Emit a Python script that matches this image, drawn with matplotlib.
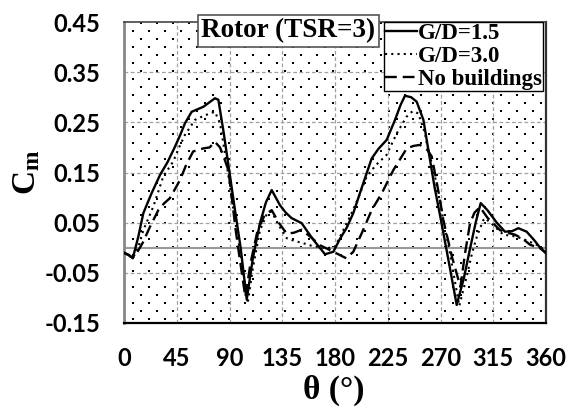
import numpy as np
import matplotlib
matplotlib.use("Agg")
import matplotlib.pyplot as plt

plt.rcParams["mathtext.fontset"] = "custom"
plt.rcParams["mathtext.rm"] = "Liberation Serif"
plt.rcParams["mathtext.bf"] = "Liberation Serif:bold"

# Moment coefficient over one revolution, G/D = 1.5
theta_15 = [0, 4, 7.5, 12.2, 16.5, 23.6, 30.7, 37, 43.5, 48, 52, 57.7, 67.7, 77.6,
            80.5, 85, 90, 95, 99.5, 104.7, 110, 116, 121, 126, 133, 138, 143, 147.3,
            151.6, 156, 161.5, 167, 171.5, 178.6, 184.3, 190, 195.6, 204, 211.3, 217,
            224.1, 231.2, 236, 239.7, 245, 249.7, 255.4, 260, 265, 270, 278, 283.8,
            290, 295, 300, 304.3, 310, 318, 325, 331, 336.4, 343.5, 350, 355, 360]
cm_15 = [-0.010, -0.014, -0.021, 0.022, 0.069, 0.109, 0.145, 0.170, 0.2015, 0.225,
         0.248, 0.271, 0.281, 0.298, 0.295, 0.230, 0.150, 0.070, 0.000, -0.103,
         -0.020, 0.049, 0.090, 0.115, 0.085, 0.070, 0.059, 0.054, 0.049, 0.034,
         0.016, 0.000, -0.013, -0.008, 0.018, 0.040, 0.069, 0.128, 0.178, 0.197,
         0.215, 0.255, 0.285, 0.303, 0.300, 0.291, 0.255, 0.190, 0.120, 0.060,
         -0.040, -0.114, -0.060, -0.004, 0.050, 0.089, 0.075, 0.050, 0.032, 0.033,
         0.039, 0.032, 0.015, 0.000, -0.011]

# G/D = 3.0
theta_30 = [0, 4, 7.5, 12, 16.5, 25, 33.5, 42, 47, 52, 60.6, 67, 74.8, 77.6, 81.9,
            86, 90, 95, 100, 105.5, 110, 116, 122, 126, 132, 138.8, 145, 153, 160,
            167, 173, 180, 184.3, 192.8, 200, 207, 215, 224, 232.7, 241, 246, 251,
            256.8, 258.3, 265.3, 270, 278, 286, 292.3, 297, 301, 306.5, 308, 315,
            323.6, 330, 335, 343, 352, 356, 360]
cm_30 = [-0.010, -0.015, -0.021, 0.000, 0.035, 0.082, 0.142, 0.172, 0.200, 0.225,
         0.255, 0.262, 0.269, 0.271, 0.248, 0.190, 0.130, 0.050, -0.020, -0.111,
         -0.040, 0.035, 0.068, 0.072, 0.045, 0.019, 0.014, 0.009, 0.004, 0.001,
         -0.001, 0.002, 0.022, 0.062, 0.100, 0.142, 0.165, 0.185, 0.228, 0.261,
         0.272, 0.268, 0.228, 0.208, 0.142, 0.085, -0.010, -0.116, -0.058, -0.010,
         0.022, 0.055, 0.059, 0.045, 0.026, 0.024, 0.022, 0.015, 0.006, 0.000,
         -0.007]

# Isolated rotor, no buildings
theta_nb = [0, 4, 7.5, 10.8, 16, 22.2, 29.3, 34, 39.2, 47.8, 53, 59, 67.6, 73,
            77.6, 81.9, 86, 89, 92, 95, 98, 103.5, 108, 114, 120, 126, 132, 138.8,
            145, 151.6, 160, 167.2, 178.6, 189.6, 195.6, 203, 211.3, 220, 229.8,
            241.2, 247, 252.5, 258.8, 262.5, 266, 269.6, 272.4, 280, 287, 291, 295.2,
            299, 303.7, 310, 320.8, 327, 333.6, 340, 346.4, 355, 360]
cm_nb = [-0.010, -0.015, -0.020, -0.011, 0.010, 0.042, 0.075, 0.088, 0.099, 0.135,
         0.165, 0.192, 0.198, 0.200, 0.211, 0.200, 0.175, 0.155, 0.100, 0.040,
         -0.010, -0.098, -0.030, 0.035, 0.065, 0.075, 0.050, 0.028, 0.030, 0.036,
         0.020, 0.005, -0.008, -0.021, -0.008, 0.030, 0.075, 0.109, 0.155, 0.198,
         0.203, 0.205, 0.195, 0.182, 0.140, 0.095, 0.055, -0.020, -0.078, -0.010,
         0.049, 0.070, 0.081, 0.060, 0.035, 0.030, 0.026, 0.018, 0.006, -0.001,
         -0.010]

x_ticks = [0, 45, 90, 135, 180, 225, 270, 315, 360]
y_ticks = [-0.15, -0.05, 0.05, 0.15, 0.25, 0.35, 0.45]
y_tick_labels = ["-0.15", "-0.05", "0.05", "0.15", "0.25", "0.35", "0.45"]

W, H = 576, 407
fig = plt.figure(figsize=(W / 100, H / 100), dpi=100)
ax = fig.add_axes([124 / W, 1 - 323 / H, 422 / W, 301 / H])

ax.set_xlim(0, 360)
ax.set_ylim(-0.15, 0.45)

# staggered dot pattern filling the plotting area
aw, ah = 422.0, 301.0
pts = []
for j, yy in enumerate(np.arange(4.5, ah, 8.0)):
    x0 = 9.0 if j % 2 == 0 else 17.0
    for xx in np.arange(x0, aw - 2, 16.0):
        pts.append((xx / aw, yy / ah))
pts = np.array(pts)
ax.scatter(pts[:, 0], pts[:, 1], s=1.2, marker="s", color="black",
           linewidths=0, transform=ax.transAxes, zorder=0.5)

# grid
for yv in y_ticks[1:-1]:
    ax.axhline(yv, color="#a0a0a0", lw=0.9, ls=(0, (3, 2)), zorder=1)
for xv in x_ticks[1:-1]:
    ax.axvline(xv, color="#a0a0a0", lw=0.9, ls=(0, (3, 2)), zorder=1)
ax.axhline(0.0, color="#9a9a9a", lw=1.5, zorder=1)

l1, = ax.plot(theta_15, cm_15, color="black", lw=1.7, ls="-", zorder=3)
l2, = ax.plot(theta_30, cm_30, color="black", lw=1.5, ls=(0, (1, 2)), zorder=3)
l3, = ax.plot(theta_nb, cm_nb, color="black", lw=1.7, ls=(0, (5, 2.5)), zorder=3)

ax.set_xticks(x_ticks)
ax.set_yticks(y_ticks)
ax.set_yticklabels(y_tick_labels)
ax.tick_params(length=0)
ax.tick_params(axis="y", pad=17)
ax.tick_params(axis="x", pad=17)
for lab in ax.get_xticklabels() + ax.get_yticklabels():
    lab.set_fontfamily("Lato")
    lab.set_fontweight("bold")
    lab.set_fontsize(17)

ax.spines["left"].set_color("#888888")
ax.spines["left"].set_linewidth(2)
ax.spines["bottom"].set_color("black")
ax.spines["bottom"].set_linewidth(1.6)
ax.spines["top"].set_color("#444444")
ax.spines["top"].set_linewidth(1.2)
ax.spines["right"].set_color("#333333")
ax.spines["right"].set_linewidth(1.6)

fig.text(26 / W, 1 - 172 / H, r"$\mathbf{C_m}$", rotation=90, fontsize=24,
         ha="center", va="center")
fig.text(334 / W, 1 - 390 / H, "θ (°)", family="Liberation Serif",
         fontweight="bold", fontsize=24, ha="center", va="center")

fig.text(288.5 / W, 1 - 31 / H, "Rotor (TSR=3)", family="Liberation Serif",
         fontweight="bold", fontsize=19.5, ha="center", va="center",
         bbox=dict(boxstyle="square,pad=0.12", fc="white", ec="#555555", lw=1.2),
         zorder=5)

leg = ax.legend([l1, l2, l3], ["G/D=1.5", "G/D=3.0", "No buildings"],
                loc="upper right", bbox_to_anchor=(543 / W, 1 - 22 / H),
                bbox_transform=fig.transFigure,
                prop={"family": "Liberation Serif", "weight": "bold", "size": 16.5},
                frameon=True, fancybox=False, edgecolor="black", framealpha=1,
                borderpad=0.05, labelspacing=0.08, handlelength=1.4,
                handletextpad=0.05, borderaxespad=0)
leg.get_frame().set_linewidth(1.0)
leg.set_zorder(6)

fig.savefig("out.png", dpi=100)
